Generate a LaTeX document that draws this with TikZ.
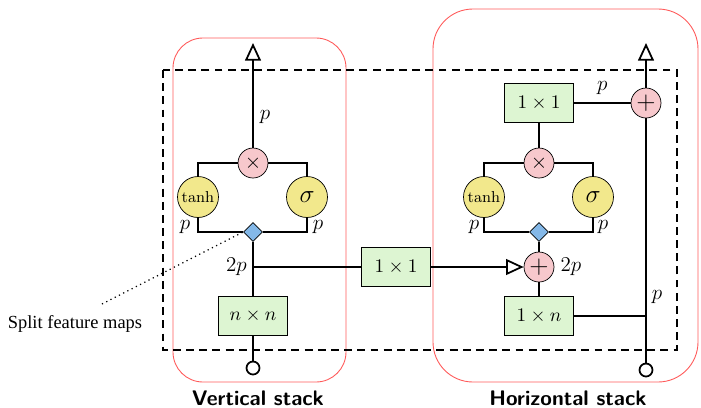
\documentclass[tikz,border=0pt]{standalone}
\usepackage{amsmath}
\usepackage{fontspec}
\newfontfamily\notefont{Liberation Serif}
\usetikzlibrary{arrows.meta,shapes.geometric,positioning}

\definecolor{opred}{RGB}{247,200,204}
\definecolor{gateyellow}{RGB}{242,232,140}
\definecolor{convgreen}{RGB}{221,245,210}
\definecolor{splitblue}{RGB}{132,184,232}
\definecolor{stackred}{RGB}{255,90,90}

\tikzset{
  op/.style={circle,draw,fill=opred,minimum size=0.6cm,inner sep=0pt,font=\large},
  gate/.style={circle,draw,fill=gateyellow,minimum size=0.82cm,inner sep=0pt},
  conv/.style={rectangle,draw,fill=convgreen,minimum width=1.38cm,minimum height=0.78cm,font=\fontsize{11}{13}\selectfont},
  split/.style={diamond,draw,fill=splitblue,minimum size=0.38cm,inner sep=0pt},
  port/.style={circle,draw,line width=1pt,fill=white,minimum size=0.26cm,inner sep=0pt},
  lbl/.style={font=\large},
  wire/.style={line width=1pt},
  feed/.style={wire,-{Triangle[open,length=10pt,width=9pt]}},
  stackbox/.style={draw=stackred,line width=0.5pt},
  stacklabel/.style={font=\fontsize{12}{14}\selectfont\sffamily\bfseries},
}

\begin{document}
\begin{tikzpicture}[x=0.02cm,y=-0.02cm]
%      \draw[help lines] (0,0) grid[step=50] (701,407);
      \useasboundingbox (0,0) rectangle (701,407);

      \draw[stackbox,rounded corners=0.6cm] (173,38) rectangle (346,382);
      \draw[stackbox,rounded corners=0.8cm] (433,9) rectangle (698,382);
      \draw[line width=1.1pt,dash pattern=on 4.5pt off 3pt] (163,70) rectangle (677,350);

      % vertical stack
      \node[port]  (vin)   at (253,368) {};
      \node[conv]  (vconv) at (253,316) {$n \times n$};
      \coordinate  (vjoin) at (253,267);
      \node[split] (vsplit) at (253,232) {};
      \node[gate]  (vtanh) at (198,197) {\small$\tanh$};
      \node[gate]  (vsig)  at (307,197) {\Large$\sigma$};
      \node[op]    (vmul)  at (253,163) {$\times$};
      \coordinate  (vend)  at (253,43);

      \draw[wire] (vin) -- (vconv);
      \draw[wire] (vconv) -- (vsplit);
      \draw[wire] (vsplit) -| (vtanh);
      \draw[wire] (vsplit) -| (vsig);
      \draw[wire] (vtanh) |- (vmul);
      \draw[wire] (vsig) |- (vmul);
      \draw[feed] (vmul) -- (vend);

      \node[lbl] (vp)   at (265,117) {$p$};
      \node[lbl] (vpl)  at (185,227) {$p$};
      \node[lbl] (vpr)  at (318,227) {$p$};
      \node[lbl,left] (v2p) at (vjoin) {$2p$};

      % link between the stacks
      \node[conv]  (mid)   at (396,267) {$1 \times 1$};
      \node[op]    (hsum)  at (539,267) {\Large$+$};
      \draw[wire] (vjoin) -- (mid);
      \draw[feed] (mid) -- (hsum);

      % horizontal stack
      \node[port]  (hin)   at (646,370) {};
      \node[conv]  (hconv) at (539,316) {$1 \times n$};
      \coordinate  (hjoin) at (646,316);
      \node[split] (hsplit) at (539,232) {};
      \node[gate]  (htanh) at (484,197) {\small$\tanh$};
      \node[gate]  (hsig)  at (593,197) {\Large$\sigma$};
      \node[op]    (hmul)  at (539,163) {$\times$};
      \node[conv]  (hout)  at (539,103) {$1 \times 1$};
      \node[op]    (hres)  at (646,103) {\Large$+$};
      \coordinate  (hend)  at (646,43);

      \draw[wire] (hin) -- (hres);
      \draw[wire] (hconv) -- (hjoin);
      \draw[wire] (hconv) -- (hsum);
      \draw[wire] (hsum) -- (hsplit);
      \draw[wire] (hsplit) -| (htanh);
      \draw[wire] (hsplit) -| (hsig);
      \draw[wire] (htanh) |- (hmul);
      \draw[wire] (hsig) |- (hmul);
      \draw[wire] (hmul) -- (hout);
      \draw[wire] (hout) -- (hres) node[lbl,midway,above,yshift=1pt] (hp) {$p$};
      \draw[feed] (hres) -- (hend);

      \node[lbl] (hpl)  at (474,227) {$p$};
      \node[lbl] (hpr)  at (603,227) {$p$};
      \node[lbl,right] (h2p) at (hsum.east) {$2p$};
      \node[lbl] (hpj)  at (657,297) {$p$};

      % note
      \node[font=\notefont\fontsize{10.5}{12}\selectfont] (note) at (75,324) {Split feature maps};
      \coordinate (notetip) at (102,304);
      \draw[dotted,line width=0.7pt] (notetip) -- (vsplit.west);

      \node[stacklabel] (vlabel) at (258,398) {Vertical stack};
      \node[stacklabel] (hlabel) at (568,398) {Horizontal stack};
\end{tikzpicture}
\end{document}
